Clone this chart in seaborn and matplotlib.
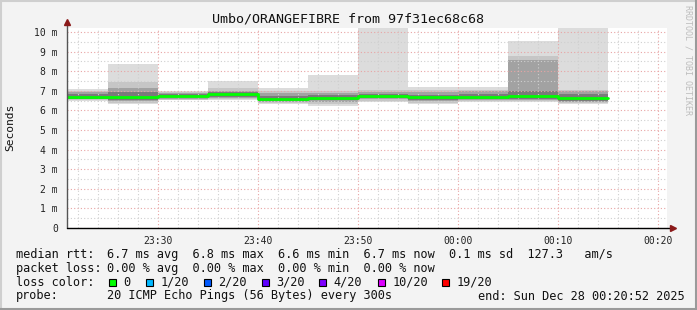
import matplotlib
matplotlib.use("Agg")
import matplotlib.pyplot as plt
import matplotlib.dates as mdates
from matplotlib.ticker import FixedLocator, MultipleLocator, FuncFormatter
from matplotlib.lines import Line2D
from matplotlib.patches import Rectangle
import pandas as pd
import seaborn as sns

# ---------------- data ----------------
block_start = ["2025-12-27 23:20", "2025-12-27 23:25", "2025-12-27 23:30", "2025-12-27 23:35",
               "2025-12-27 23:40", "2025-12-27 23:45", "2025-12-27 23:50", "2025-12-27 23:55",
               "2025-12-28 00:00", "2025-12-28 00:05", "2025-12-28 00:10"]
rtt_max = [7.08, 8.37, 7.00, 7.50, 7.13, 7.80, 10.40, 7.18, 7.18, 9.54, 10.40]
rtt_p90 = [6.98, 7.47, 6.92, 7.13, 6.98, 6.98, 7.02, 7.02, 7.06, 8.78, 7.04]
rtt_p75 = [6.92, 7.13, 6.88, 7.00, 6.90, 6.90, 6.94, 6.94, 6.98, 8.57, 6.98]
rtt_p60 = [6.82, 6.92, 6.82, 6.92, 6.75, 6.78, 6.82, 6.80, 6.84, 7.00, 6.85]
rtt_median = [6.68, 6.67, 6.75, 6.82, 6.58, 6.64, 6.72, 6.70, 6.70, 6.73, 6.65]
rtt_p40 = [6.60, 6.55, 6.66, 6.70, 6.50, 6.52, 6.62, 6.55, 6.60, 6.60, 6.50]
rtt_p25 = [6.56, 6.47, 6.60, 6.62, 6.44, 6.45, 6.56, 6.48, 6.55, 6.55, 6.45]
rtt_p10 = [6.52, 6.40, 6.55, 6.56, 6.38, 6.35, 6.50, 6.40, 6.50, 6.49, 6.40]
rtt_min = [6.48, 6.31, 6.51, 6.51, 6.31, 6.24, 6.45, 6.34, 6.45, 6.43, 6.33]
step_seconds = 300

x_start = "2025-12-27 23:20:52"
x_end = "2025-12-28 00:20:52"
y_ticks = [0, 1, 2, 3, 4, 5, 6, 7, 8, 9, 10]

title = "Umbo/ORANGEFIBRE from 97f31ec68c68"
rtt_label = "median rtt:"
rtt_values = "6.7 ms avg  6.8 ms max  6.6 ms min  6.7 ms now  0.1 ms sd  127.3   am/s"
loss_label = "packet loss:"
loss_values = "0.00 % avg  0.00 % max  0.00 % min  0.00 % now"
color_label = "loss color:"
loss_names = ["0", "1/20", "2/20", "3/20", "4/20", "10/20", "19/20"]
loss_colors = ["#00ff00", "#00b8ff", "#0059ff", "#5e00ff", "#7e00ff", "#dd00ff", "#ff0000"]
probe_label = "probe:"
probe_text = "20 ICMP Echo Pings (56 Bytes) every 300s"
end_text = "end: Sun Dec 28 00:20:52 2025"

# ---------------- frame ----------------
W, H = 697, 310
sns.set_style("white")
plt.rcParams["font.family"] = ["DejaVu Sans Mono"]
fig = plt.figure(figsize=(W / 100, H / 100), dpi=100)
fig.patch.set_facecolor("#f3f3f3")

def fx(x):
    return x / W

def fy(y):
    return 1 - y / H

ax_l, ax_r, ax_t, ax_b = 67, 667, 28, 228
ax = fig.add_axes([fx(ax_l), fy(ax_b), (ax_r - ax_l) / W, (ax_b - ax_t) / H])
ax.set_facecolor("white")

# step data (block starts + closing edge)
t = pd.to_datetime(block_start)
t_edges = list(t) + [t[-1] + pd.Timedelta(seconds=step_seconds)]

def ext(a):
    return list(a) + [a[-1]]

layers = [(rtt_min, rtt_max, "#dcdcdc"),
          (rtt_p10, rtt_p90, "#c6c6c6"),
          (rtt_p25, rtt_p75, "#a2a2a2"),
          (rtt_p40, rtt_p60, "#7a7a7a")]
for lo, hi, c in layers:
    ax.fill_between(t_edges, ext(lo), ext(hi), step="post", color=c, lw=0, zorder=1)

df = pd.DataFrame({"time": t_edges, "median": ext(rtt_median)})
sns.lineplot(data=df, x="time", y="median", ax=ax, drawstyle="steps-post",
             color="#00ff00", lw=2.0, estimator=None, zorder=4)

ax.set_xlim(pd.Timestamp(x_start), pd.Timestamp(x_end))
ax.set_ylim(0, (ax_b - ax_t) / 19.6)
ax.set_xlabel("")
ax.set_ylabel("")

ax.xaxis.set_major_locator(mdates.MinuteLocator(byminute=range(0, 60, 10)))
ax.xaxis.set_minor_locator(mdates.MinuteLocator(byminute=range(0, 60, 2)))
ax.xaxis.set_major_formatter(mdates.DateFormatter("%H:%M"))
ax.yaxis.set_major_locator(FixedLocator(y_ticks))
ax.yaxis.set_minor_locator(MultipleLocator(0.5))
ax.yaxis.set_major_formatter(FuncFormatter(lambda v, p: "0" if v == 0 else f"{int(round(v))} m"))

ax.set_axisbelow(False)
ax.grid(which="minor", color="#cfcfcf", ls=(0, (1, 2)), lw=0.8)
ax.grid(which="major", color="#e8a4a4", ls=(0, (1, 2)), lw=0.8)

ax.tick_params(axis="both", which="both", direction="out", labelsize=7, colors="#222222")
ax.tick_params(axis="y", which="major", length=3, width=0.7, color="#888888", pad=3.5)
ax.tick_params(axis="y", which="minor", length=2, width=0.7, color="#aaaaaa")
ax.tick_params(axis="x", which="major", length=3, width=0.7, color="#666666", pad=3)
ax.tick_params(axis="x", which="minor", length=2, width=0.7, color="#888888")

for s in ax.spines.values():
    s.set_visible(False)

# axis lines and arrows
ax.plot([0, 0], [0, 1.025], transform=ax.transAxes, color="#555555", lw=1.0, clip_on=False, zorder=6)
ax.plot([0, 1.01], [0, 0], transform=ax.transAxes, color="#000000", lw=1.0, clip_on=False, zorder=6)
ax.plot([0], [1.03], marker="^", ms=4, color="#8b1a1a", transform=ax.transAxes, clip_on=False, zorder=7)
ax.plot([1.01], [0], marker=">", ms=4, color="#8b1a1a", transform=ax.transAxes, clip_on=False, zorder=7)

# texts
fig.text(fx(348.5), fy(19), title, ha="center", va="center", fontsize=9.6, color="#111111")
fig.text(fx(10.7), fy(127), "Seconds", rotation=90, ha="center", va="center", fontsize=8.1, color="#111111")
fig.text(fx(688), fy(60), "RRDTOOL / TOBI OETIKER", rotation=270, ha="center", va="center",
         fontsize=6, color="#bdbdbd")

fs = 8.6
fig.text(fx(16), fy(254.3), rtt_label, va="center", fontsize=fs, color="#111111")
fig.text(fx(107), fy(254.3), rtt_values, va="center", fontsize=fs, color="#111111")
fig.text(fx(16), fy(268.3), loss_label, va="center", fontsize=fs, color="#111111")
fig.text(fx(107), fy(268.3), loss_values, va="center", fontsize=fs, color="#111111")
fig.text(fx(16), fy(282.3), color_label, va="center", fontsize=fs, color="#111111")
box_x = [108.7, 146, 203.7, 261.7, 319.3, 377.7, 442.3]
for bx, name, col in zip(box_x, loss_names, loss_colors):
    fig.add_artist(Rectangle((fx(bx), fy(285.8)), 7 / W, 7 / H, transform=fig.transFigure,
                             facecolor=col, edgecolor="black", lw=0.8))
    fig.text(fx(bx + 14.6), fy(282.3), name, va="center", fontsize=fs, color="#111111")
fig.text(fx(16), fy(296), probe_label, va="center", fontsize=fs, color="#111111")
fig.text(fx(107), fy(296), probe_text, va="center", fontsize=fs, color="#111111")
fig.text(fx(478.3), fy(296), end_text, va="center", fontsize=fs, color="#111111")

# figure shading frame
fig.add_artist(Line2D([0, 1], [fy(1), fy(1)], transform=fig.transFigure, color="#cfcfcf", lw=1.5))
fig.add_artist(Line2D([fx(1), fx(1)], [0, 1], transform=fig.transFigure, color="#cfcfcf", lw=1.5))
fig.add_artist(Line2D([0, 1], [fy(309), fy(309)], transform=fig.transFigure, color="#9a9a9a", lw=1.5))
fig.add_artist(Line2D([fx(696), fx(696)], [0, 1], transform=fig.transFigure, color="#9a9a9a", lw=1.5))

fig.savefig("out.png", dpi=100, facecolor=fig.get_facecolor())
